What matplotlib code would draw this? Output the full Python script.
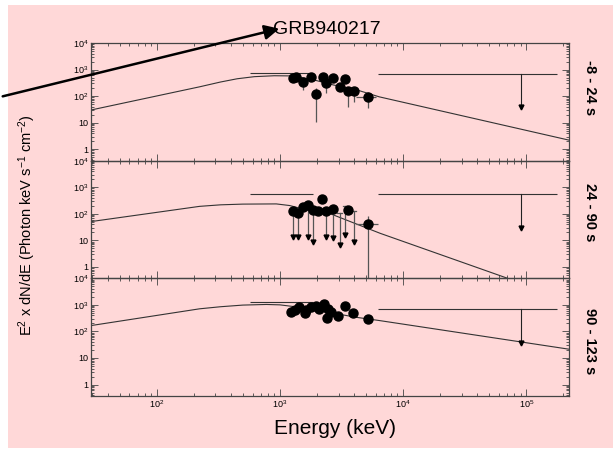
import numpy as np
import matplotlib
matplotlib.use("Agg")
from matplotlib import pyplot as plt
from matplotlib.patches import Rectangle, FancyArrowPatch
from matplotlib.ticker import FixedLocator, FixedFormatter, LogLocator, NullFormatter

plt.rcParams['font.family'] = ['Liberation Sans', 'DejaVu Sans']
plt.rcParams['mathtext.default'] = 'regular'

# ---- data (keV, keV^2 * photons / keV s cm2) ----
labels = ["-8 - 24 s", "24 - 90 s", "90 - 123 s"]

# model curves
m1_E = [29.3, 223, 330, 450, 620, 900, 1300, 2000, 2700, 4200, 6400, 2.22e5]
m1_y = [30, 224, 340, 450, 540, 585, 575, 380, 265, 172, 94, 2.2]
m2_E = [29.3, 223, 330, 500, 935, 1200, 1440, 2680, 6500, 72000, 1e5]
m2_y = [51, 191, 218, 232, 236, 205, 165, 93, 18.5, 0.36, 0.21]
m3_E = [29.3, 223, 330, 500, 775, 1000, 1300, 2500, 4170, 6440, 2.22e5]
m3_y = [166, 710, 850, 980, 1035, 1000, 860, 520, 340, 256, 21.4]

# low energy horizontal bar near the peak
pk_E = [[567, 1840], [567, 1840], [567, 1840]]
pk_y = [720, 540, 1260]

# high energy upper limit: bar range, level, arrow position and tip
ul_E = [[6200, 178000], [6200, 178000], [6200, 178000]]
ul_y = [676, 535, 710]
ul_xa = [91000, 91000, 91000]
ul_tip = [40, 30, 38]

# panel 1 points
p1_E = [1270, 1360, 1540, 1800, 1970, 2230, 2350, 2690, 3050, 3390, 3560, 3970, 5180]
p1_y = [466, 535, 347, 535, 116, 535, 303, 466, 224, 426, 155, 155, 89]
p1_lo = [420, 480, 169, 480, 10.7, 480, 130, 420, 190, 380, 39.6, 61, 34.5]
p1_hi = [520, 590, 420, 590, 200, 590, 360, 520, 260, 480, 190, 190, 145]
p1_Elo = [1270, 1360, 1540, 1800, 1970, 2230, 2350, 2690, 3050, 3390, 3560, 3700, 4170]
p1_Ehi = [1270, 1360, 1540, 1800, 1970, 2230, 2350, 2690, 3050, 3390, 3560, 4300, 6030]

# panel 2 points (detections)
p2_E = [1540, 2030, 2190, 3600, 5180]
p2_y = [175, 131, 375, 143, 40.7]
p2_lo = [150, 115, 340, 125, 0.3]
p2_hi = [200, 150, 410, 165, 80]
p2_Elo = [1540, 2030, 2190, 3600, 4170]
p2_Ehi = [1540, 2030, 2190, 3600, 6200]
# panel 2 upper limits: start level and arrow tip
p2u_E = [1270, 1400, 1690, 1850, 2380, 2690, 3050, 3390, 3970]
p2u_y = [131, 107, 222, 143, 131, 156, 104, 191, 123]
p2u_tip = [13.8, 13.8, 13.8, 8.9, 13.8, 11.9, 6.7, 16.5, 8.4]
p2u_dot = [1, 1, 1, 1, 1, 1, 0, 0, 0]

# panel 3 points
p3_E = [1240, 1315, 1440, 1590, 1640, 1800, 1970, 2090, 2300, 2450, 2400, 2610,
        2960, 3390, 3900, 5180]
p3_y = [528, 650, 820, 482, 615, 820, 945, 710, 1035, 710, 324, 528, 397, 870, 482, 295]

pink = '#ffd8d8'
edge = '#444444'

fig = plt.figure(figsize=(6.13, 4.54), dpi=100)
fig.patch.set_facecolor('white')
fig.add_artist(Rectangle((8 / 613, 1 - 448 / 454), 1 - 8 / 613, (448 - 5) / 454,
                         transform=fig.transFigure, facecolor=pink, edgecolor='none', zorder=-10))

left = 91 / 613
width = (569 - 91) / 613
tops = [43, 160.7, 278.3]
ph = 117.7
axes = []
for t in tops:
    ax = fig.add_axes([left, 1 - (t + ph) / 454, width, ph / 454])
    ax.set_facecolor('none')
    axes.append(ax)

models = [(m1_E, m1_y), (m2_E, m2_y), (m3_E, m3_y)]
for i, ax in enumerate(axes):
    ax.set_xscale('log')
    ax.set_yscale('log')
    ax.set_xlim(29.3, 2.22e5)
    ax.set_ylim(0.37, 1e4)
    ax.plot(models[i][0], models[i][1], color='#333333', lw=0.8)
    ax.hlines(pk_y[i], pk_E[i][0], pk_E[i][1], color='#333333', lw=0.8)
    ax.hlines(ul_y[i], ul_E[i][0], ul_E[i][1], color='#333333', lw=0.8)
    ax.plot([ul_xa[i], ul_xa[i]], [ul_y[i], ul_tip[i]], color='#222222', lw=0.8)
    ax.plot([ul_xa[i]], [ul_tip[i]], marker='v', color='black', ms=3.5)

    ax.yaxis.set_major_locator(FixedLocator([1, 10, 100, 1000, 10000]))
    ax.yaxis.set_major_formatter(FixedFormatter(['1', '10', '10$^2$', '10$^3$', '10$^4$']))
    ax.yaxis.set_minor_locator(LogLocator(base=10, subs=np.arange(2, 10), numticks=20))
    ax.yaxis.set_minor_formatter(NullFormatter())
    ax.xaxis.set_major_locator(FixedLocator([100, 1000, 10000, 100000]))
    ax.xaxis.set_minor_locator(LogLocator(base=10, subs=np.arange(2, 10), numticks=20))
    ax.xaxis.set_minor_formatter(NullFormatter())
    ax.tick_params(which='both', direction='in', top=True, right=True,
                   color=edge, width=0.6, labelsize=6.5, pad=2)
    ax.tick_params(which='major', length=5)
    ax.tick_params(which='minor', length=2.5)
    for s in ax.spines.values():
        s.set_color(edge)
        s.set_linewidth(0.9)
    if i < 2:
        ax.xaxis.set_major_formatter(NullFormatter())
    else:
        ax.xaxis.set_major_formatter(FixedFormatter(['10$^2$', '10$^3$', '10$^4$', '10$^5$']))

# panel 1
ax = axes[0]
p1_E_a = np.array(p1_E, float)
p1_y_a = np.array(p1_y, float)
ax.errorbar(p1_E_a, p1_y_a,
            yerr=[p1_y_a - np.array(p1_lo), np.array(p1_hi) - p1_y_a],
            xerr=[p1_E_a - np.array(p1_Elo), np.array(p1_Ehi) - p1_E_a],
            fmt='o', color='black', ms=6.5, ecolor='#555555', elinewidth=0.9, capsize=0)

# panel 2
ax = axes[1]
for E, y, tip, dot in zip(p2u_E, p2u_y, p2u_tip, p2u_dot):
    ax.plot([E, E], [y, tip], color='#555555', lw=0.9)
    ax.plot([E], [tip], marker='v', color='black', ms=3.5)
    if dot:
        ax.plot([E], [y], marker='o', color='black', ms=6.5)
    else:
        ax.plot([E / 1.04, E * 1.04], [y, y], color='#555555', lw=0.9)
p2_E_a = np.array(p2_E, float)
p2_y_a = np.array(p2_y, float)
ax.errorbar(p2_E_a, p2_y_a,
            yerr=[p2_y_a - np.array(p2_lo), np.array(p2_hi) - p2_y_a],
            xerr=[p2_E_a - np.array(p2_Elo), np.array(p2_Ehi) - p2_E_a],
            fmt='o', color='black', ms=6.5, ecolor='#555555', elinewidth=0.9, capsize=0)

# panel 3
axes[2].plot(p3_E, p3_y, 'o', color='black', ms=6.5)

# texts
fig.text(273 / 613, 1 - 30 / 454, 'GRB940217', ha='left', va='center', fontsize=14)
fig.text(335 / 613, 1 - 428 / 454, 'Energy (keV)', ha='center', va='center', fontsize=15)
fig.text(27 / 613, 1 - 225 / 454, 'E$^2$ x dN/dE (Photon keV s$^{-1}$ cm$^{-2}$)',
         rotation=90, ha='center', va='center', fontsize=10.5)
for lab, yc in zip(labels, [88, 212, 341]):
    fig.text(590 / 613, 1 - yc / 454, lab, rotation=-90, ha='center', va='center',
             fontsize=10.5, fontweight='bold')

fig.add_artist(FancyArrowPatch((0, 1 - 97 / 454), (282 / 613, 1 - 28 / 454),
                               transform=fig.transFigure, arrowstyle='-|>',
                               mutation_scale=22, lw=1.8, color='black'))

fig.savefig('out.png', dpi=100)
